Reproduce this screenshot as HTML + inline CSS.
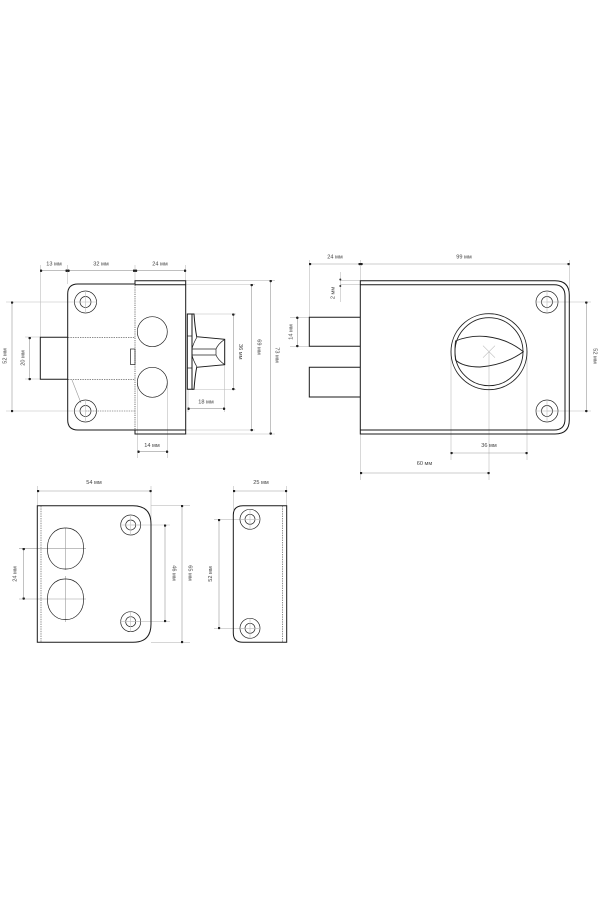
<!DOCTYPE html>
<html><head><meta charset="utf-8"><style>
html,body{margin:0;padding:0;background:#fff;width:600px;height:900px;overflow:hidden}
svg{display:block;filter:blur(.25px)}
text{font-family:"Liberation Sans",sans-serif;font-size:5.6px;fill:#444;text-anchor:middle}
.m{fill:none;stroke:#1a1a1a;stroke-width:1}
.s{fill:none;stroke:#222;stroke-width:.7}
.d{fill:none;stroke:#444;stroke-width:.6;stroke-dasharray:1.4 1}
.dv{fill:none;stroke:#777;stroke-width:1;stroke-dasharray:1.2 1}
.g{fill:none;stroke:#bdbdbd;stroke-width:.6}
.l{fill:none;stroke:#999;stroke-width:.6}
</style></head><body>
<svg width="600" height="900" viewBox="0 0 600 900" xmlns="http://www.w3.org/2000/svg">
<defs>
<marker id="a" viewBox="0 0 4 4" refX="2" refY="2" markerWidth="2.5" markerHeight="2.5" markerUnits="userSpaceOnUse" orient="auto"><circle cx="2" cy="2" r="2" fill="#222"/></marker>
<g id="h"><circle r="11" class="s"/><circle r="5.5" class="s"/><path d="M-11 0H11M0-11V11" class="g"/></g>
<g id="h2"><circle r="10" class="s"/><circle r="5" class="s"/><path d="M-10 0H10M0-10V10" class="g"/></g>
</defs>

<!-- Left view extension lines -->
<path class="g" d="M40.3 265V337M67.7 265V284M135 265V281M185.7 265V281M6 302H75M6 411H75M25 337H40M25 379H40M186 280.7H275M186 434H275M186 284.5H255M186 430H255M192 314H236M192 389.5H236M188 390V412M224.7 365V412M137.5 383V458M167.5 383V458"/>
<path class="l" marker-start="url(#a)" marker-end="url(#a)" d="M41 270.7H66.5"/>
<path class="l" marker-start="url(#a)" marker-end="url(#a)" d="M68.5 270.7H134"/>
<path class="l" marker-start="url(#a)" marker-end="url(#a)" d="M136 270.7H185"/>
<path class="l" marker-start="url(#a)" marker-end="url(#a)" d="M12 302.5V411"/>
<path class="l" marker-start="url(#a)" marker-end="url(#a)" d="M29.7 338V379"/>
<path class="l" marker-start="url(#a)" marker-end="url(#a)" d="M138.5 451.7H167"/>
<path class="l" marker-start="url(#a)" marker-end="url(#a)" d="M188.5 408.7H224"/>
<path class="l" marker-start="url(#a)" marker-end="url(#a)" d="M233.3 314.5V389"/>
<path class="l" marker-start="url(#a)" marker-end="url(#a)" d="M251.7 285V430"/>
<path class="l" marker-start="url(#a)" marker-end="url(#a)" d="M270.7 281V433.5"/>

<!-- Left view shapes -->
<path class="m" d="M135 284H78Q67.7 284 67.7 294V420Q67.7 430 78 430H135"/>
<path class="m" d="M68 337.3H40.3V379.3H68"/>
<path class="d" d="M68 337.3H135M68 379.3H135M85.5 411H135"/>
<path class="dv" d="M135 285V430"/>
<path class="l" d="M72 380L81 403"/>
<use href="#h" x="85.5" y="302"/><use href="#h" x="85.5" y="411"/>
<rect x="130.5" y="349" width="4.5" height="15.5" class="s"/>
<path class="m" d="M135 284.7V280.7H185.7V434H135V430M135 284.7H185.7M135 430H185.7"/>
<circle cx="152.3" cy="331.7" r="15" class="s"/><circle cx="152.3" cy="382.3" r="15" class="s"/>
<path class="m" d="M192 314H187.3V389.3H192Z"/>
<path class="s" d="M187.3 336H192M187.3 368H192"/>
<path class="m" d="M192 314H194Q195 328 196.7 336.7L224.7 339.3V364.7L196.7 367.3Q195 376 194 389.3H192"/>
<path class="s" d="M192 349H216M192 355H216M224.7 339.3Q218 344 216 349V355Q218 360 224.7 364.7M197 337Q193 344 192 349M197 367Q193 360 192 355"/>
<text x="54" y="265.5">13 мм</text>
<text x="101" y="265.5">32 мм</text>
<text x="160" y="265.5">24 мм</text>
<text x="152" y="447">14 мм</text>
<text x="206" y="403.5">18 мм</text>
<text transform="translate(5 356) rotate(-90)" y="1.7">52 мм</text>
<text transform="translate(23 358) rotate(-90)" y="1.7">20 мм</text>
<text transform="translate(240.7 351.7) rotate(90)" y="1.7">36 мм</text>
<text transform="translate(259 347) rotate(90)" y="1.7">69 мм</text>
<text transform="translate(277 355) rotate(90)" y="1.7">73 мм</text>

<!-- Right view dims -->
<path class="g" d="M309.5 260V317M360.3 260V281M569.5 260V290M340.3 272V302M340 280.7H360M340 284.7H360M290 317.3H310M290 346.3H310M547 302H591M547 411H591M360.3 434V480M451 352V460M527 352V460M489 352V480"/>
<circle cx="340.3" cy="279.5" r="1" fill="#333"/><circle cx="340.3" cy="286" r="1" fill="#333"/>
<path class="l" marker-start="url(#a)" marker-end="url(#a)" d="M310 264H359.5"/>
<path class="l" marker-start="url(#a)" marker-end="url(#a)" d="M361.5 264H568.5"/>
<path class="l" marker-start="url(#a)" marker-end="url(#a)" d="M297.3 317.8V346"/>
<path class="l" marker-start="url(#a)" marker-end="url(#a)" d="M361 473H488.5"/>
<path class="l" marker-start="url(#a)" marker-end="url(#a)" d="M451.5 453H526.5"/>
<path class="l" marker-start="url(#a)" marker-end="url(#a)" d="M586.3 302.5V411"/>
<!-- Right view shapes -->
<path class="m" d="M360.3 280.7H555Q569.3 280.7 569.3 295V420Q569.3 434 555 434H360.3ZM360.3 284.7H554Q565 284.7 565 296V419Q565 430 554 430H360.3"/>
<path class="m" d="M360 317.3H309.3V346.3H360M360 367.3H309.3V397H360"/>
<use href="#h" x="547" y="302"/><use href="#h" x="547" y="411"/>
<circle cx="489" cy="351.7" r="38" class="s" style="stroke-width:.9"/><circle cx="489" cy="351.7" r="34" class="s" style="stroke-width:.9"/>
<path class="s" style="stroke-width:.9" d="M455.5 341Q470 335 486 336.5Q508 339 523.3 351.7Q505 365 480 367Q463 367 455.5 360Q454.5 350 455.5 341Z"/>
<path class="g" d="M483 345.7L495 357.7M495 345.7L483 357.7"/>
<text x="335" y="258.5">24 мм</text>
<text x="464" y="258.5">99 мм</text>
<text x="424.5" y="465">60 мм</text>
<text x="489" y="447">36 мм</text>
<text transform="translate(333 293) rotate(-90)" y="1.7">2 мм</text>
<text transform="translate(291 332) rotate(-90)" y="1.7">14 мм</text>
<text transform="translate(595 356) rotate(90)" y="1.7">52 мм</text>

<!-- Bottom left -->
<path class="g" d="M37.5 486V505M151 486V520M151 505.7H190M151 642.3H190M131 525H170M131 621.7H170"/>
<path class="l" d="M19 548.3H86M19 599H86M65.7 528V570M65.7 576V622"/>
<path class="l" marker-start="url(#a)" marker-end="url(#a)" d="M38 491H150.5"/>
<path class="l" marker-start="url(#a)" marker-end="url(#a)" d="M23.7 549V598.5"/>
<path class="l" marker-start="url(#a)" marker-end="url(#a)" d="M165 525.5V621"/>
<path class="l" marker-start="url(#a)" marker-end="url(#a)" d="M182 506V642"/>
<path class="m" d="M37.3 505.7H133Q151 505.7 151 524V624Q151 642.3 133 642.3H37.3Z"/>
<path class="d" d="M41 506V642"/>
<rect x="47.5" y="528" width="36" height="41" rx="17" ry="19" class="s"/>
<rect x="47.5" y="579" width="36" height="40.5" rx="17" ry="19" class="s"/>
<use href="#h2" x="130.7" y="525"/><use href="#h2" x="130.7" y="621.7"/>
<text x="94" y="484">54 мм</text>
<text transform="translate(15 574) rotate(-90)" y="1.7">24 мм</text>
<text transform="translate(174 573) rotate(90)" y="1.7">46 мм</text>
<text transform="translate(190 573) rotate(90)" y="1.7">65 мм</text>

<!-- Bottom middle -->
<path class="g" d="M233.5 486V510M286.7 486V506M214 519.3H245M214 628.3H245"/>
<path class="l" marker-start="url(#a)" marker-end="url(#a)" d="M234 491H286"/>
<path class="l" marker-start="url(#a)" marker-end="url(#a)" d="M219 520V628"/>
<path class="m" d="M286.7 505.7H243Q233.3 505.7 233.3 515V633Q233.3 642.3 243 642.3H286.7Z"/>
<path class="d" d="M282.3 506V642"/>
<use href="#h2" x="250" y="519.3"/><use href="#h2" x="250" y="628.3"/>
<text x="261" y="484">25 мм</text>
<text transform="translate(210.5 574) rotate(-90)" y="1.7">52 мм</text>
</svg>
</body></html>
